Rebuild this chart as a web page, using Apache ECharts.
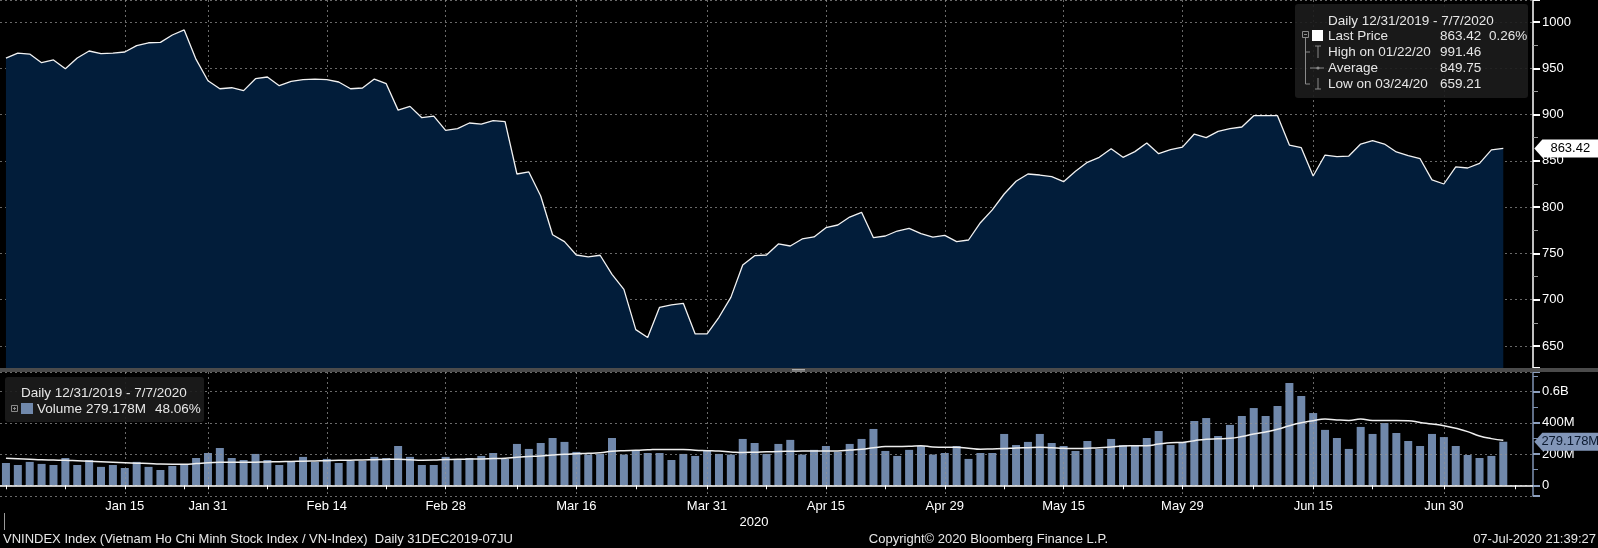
<!DOCTYPE html>
<html lang="en">

<head>
  <meta charset="UTF-8">
  <title>VNINDEX Index</title>
  <style>
    html, body { margin: 0; padding: 0; background: #000; }
    #chart { width: 1598px; height: 548px; }
  </style>
</head>

<body>
  <div id="chart"></div>
  <script src="https://cdn.jsdelivr.net/npm/echarts@6/dist/echarts.min.js"></script>
  <script>
    // trading days shown on the axis, by month
    const tradingDays = {
      '2019-12': [31],
      '2020-01': [2, 3, 6, 7, 8, 9, 10, 13, 14, 15, 16, 17, 20, 21, 22, 30, 31],
      '2020-02': [3, 4, 5, 6, 7, 10, 11, 12, 13, 14, 17, 18, 19, 20, 21, 24, 25, 26, 27, 28],
      '2020-03': [2, 3, 4, 5, 6, 9, 10, 11, 12, 13, 16, 17, 18, 19, 20, 23, 24, 25, 26, 27, 30, 31],
      '2020-04': [1, 3, 6, 7, 8, 9, 10, 13, 14, 15, 16, 17, 20, 21, 22, 23, 24, 27, 28, 29],
      '2020-05': [4, 5, 6, 7, 8, 11, 12, 13, 14, 15, 18, 19, 20, 21, 22, 25, 26, 27, 28, 29],
      '2020-06': [1, 2, 3, 4, 5, 8, 9, 10, 11, 12, 15, 16, 17, 18, 19, 22, 23, 24, 25, 26, 29, 30],
      '2020-07': [1, 2, 3, 6, 7]
    };
    // empty slots Bloomberg leaves after the last bar
    const paddingDays = ['2020-07-08', '2020-07-09'];

    const labelDates = ['2020-01-15', '2020-01-31', '2020-02-14', '2020-02-28', '2020-03-16', '2020-03-31',
      '2020-04-15', '2020-04-29', '2020-05-15', '2020-05-29', '2020-06-15', '2020-06-30'];
    const minorTickDates = ['2019-12-31', '2020-01-08', '2020-01-22', '2020-02-07', '2020-02-21', '2020-03-09',
      '2020-03-23', '2020-04-08', '2020-04-22', '2020-05-08', '2020-05-22', '2020-06-08', '2020-06-22', '2020-07-08'];

    // VN-Index close
    const prices = [
      961.0, 966.5, 965.4, 956.1, 959.0, 949.6, 961.1, 968.7, 965.8, 966.5,
      967.6, 974.5, 977.6, 978.0, 986.0, 991.46, 959.6, 936.6, 927.9, 929.0,
      925.9, 938.8, 940.6, 931.2, 935.9, 937.7, 938.4, 937.7, 935.2, 927.9,
      928.7, 938.4, 933.4, 904.8, 908.9, 896.6, 898.4, 882.9, 884.8, 890.9,
      889.8, 893.5, 892.4, 835.8, 838.0, 812.1, 770.2, 762.7, 748.3, 746.2,
      748.0, 727.4, 711.2, 667.7, 659.21, 691.8, 694.3, 696.1, 663.0, 663.0,
      681.0, 702.5, 737.5, 747.6, 748.3, 760.2, 758.0, 765.6, 767.8, 777.8,
      780.7, 789.3, 794.4, 767.0, 768.8, 774.2, 777.1, 771.3, 767.7, 769.5,
      762.7, 764.5, 783.2, 797.0, 814.2, 827.9, 835.8, 834.7, 832.9, 827.5,
      838.7, 848.4, 853.8, 863.1, 853.8, 860.0, 869.3, 857.8, 862.1, 864.9,
      879.0, 875.1, 881.9, 884.8, 886.6, 898.8, 898.8, 898.8, 867.1, 864.2,
      833.6, 856.3, 854.5, 855.2, 868.2, 871.8, 868.2, 859.6, 855.6, 852.3,
      829.4, 825.0, 843.4, 842.3, 847.3, 861.8, 863.42
    ];

    // volume, millions
    const volumes = [
      143, 130, 150, 137, 130, 175, 130, 162, 118, 130,
      111, 150, 118, 98, 124, 130, 175, 207, 239, 175,
      162, 201, 162, 130, 150, 182, 150, 169, 143, 156,
      156, 182, 175, 252, 182, 130, 130, 182, 169, 175,
      188, 207, 169, 265, 233, 271, 303, 278, 214, 197,
      201, 303, 197, 220, 207, 207, 162, 201, 188, 222,
      201, 197, 297, 271, 201, 265, 291, 197, 227, 252,
      214, 265, 297, 361, 220, 188, 227, 252, 197, 207,
      252, 169, 207, 207, 329, 258, 278, 329, 271, 252,
      220, 284, 233, 297, 258, 252, 303, 348, 258, 278,
      412, 431, 316, 387, 444, 495, 444, 508, 656, 572,
      463, 355, 303, 233, 374, 329, 399, 335, 284, 252,
      329, 309, 252, 194, 175, 188, 279.178
    ];

    // volume moving average (white curve), millions
    const volumeAvg = [
      173, 170, 167, 164, 162, 160, 157, 154, 151, 148,
      145, 142, 139, 136, 135, 135, 139, 145, 147, 147,
      147, 148, 150, 151, 153, 154, 156, 158, 160, 161,
      162, 164, 166, 167, 164, 161, 162, 165, 167, 168,
      169, 171, 173, 180, 184, 188, 194, 199, 202, 205,
      209, 218, 222, 224, 227, 230, 230, 229, 225, 222,
      219, 214, 210, 212, 215, 217, 218, 219, 220, 220,
      220, 226, 231, 240, 248, 249, 250, 254, 246, 244,
      244, 238, 231, 233, 235, 239, 241, 243, 240, 237,
      235, 238, 241, 246, 252, 253, 254, 264, 273, 275,
      286, 295, 298, 301, 312, 329, 342, 359, 382, 401,
      414, 425, 419, 416, 425, 416, 416, 416, 414, 403,
      393, 382, 365, 344, 316, 299, 288
    ];

    const monthNames = ['Jan', 'Feb', 'Mar', 'Apr', 'May', 'Jun', 'Jul', 'Aug', 'Sep', 'Oct', 'Nov', 'Dec'];

    const categories = [];
    for (const month of Object.keys(tradingDays)) {
      for (const d of tradingDays[month]) {
        categories.push(month + '-' + String(d).padStart(2, '0'));
      }
    }
    categories.push(...paddingDays);

    const lastDate = categories[prices.length - 1];
    const lastPrice = prices[prices.length - 1];
    const lastVolume = volumes[volumes.length - 1];

    function fmtDate(s) {
      const parts = s.split('-');
      return monthNames[+parts[1] - 1] + ' ' + (+parts[2]);
    }

    const FONT = 'Liberation Sans, Arial, sans-serif';
    const LEGEND_FONT = '13.5px ' + FONT;
    const gridColor = 'rgba(150,150,150,0.7)';
    const barColor = '#7088ab';
    const tagPath = 'path://M0,9L8,0L64,0L64,18L8,18Z';

    // legend text, z above the legend boxes
    function text(t, x, y) {
      return {
        type: 'text',
        silent: true,
        z: 11,
        style: {
          text: t, x: x, y: y, fill: '#e6e6e6',
          font: LEGEND_FONT, textVerticalAlign: 'middle'
        }
      };
    }
    function textAligned(t, x, y, align, fill) {
      return {
        type: 'text',
        silent: true,
        style: {
          text: t, x: x, y: y, fill: fill || '#e6e6e6',
          font: '13px ' + FONT, textAlign: align, textVerticalAlign: 'middle'
        }
      };
    }
    function line(x1, y1, x2, y2, color) {
      return { type: 'line', silent: true, z: 11, shape: { x1, y1, x2, y2 }, style: { stroke: color || '#8a8a8a', lineWidth: 1 } };
    }

    const echart = echarts.init(document.getElementById('chart'));

    const xBase = {
      type: 'category',
      data: categories,
      boundaryGap: true,
      splitLine: {
        show: true,
        alignWithLabel: true,
        interval: (i, v) => labelDates.includes(v),
        lineStyle: { color: gridColor, type: [2, 3], width: 1 }
      }
    };

    const options = {
      backgroundColor: '#000',
      animation: false,
      grid: [
        { left: -2, top: 0, width: 1535, height: 368 },
        { left: -2, top: 372, width: 1535, height: 124 }
      ],
      xAxis: [
        Object.assign({}, xBase, {
          gridIndex: 0,
          z: 3,
          axisLine: { show: false },
          axisTick: { show: false },
          axisLabel: { show: false }
        }),
        Object.assign({}, xBase, {
          gridIndex: 1,
          z: 3,
          axisLine: { show: true, lineStyle: { color: '#ffffff', width: 1.5 } },
          axisTick: {
            show: true,
            alignWithLabel: true,
            length: 4,
            interval: (i, v) => labelDates.includes(v) || minorTickDates.includes(v),
            lineStyle: { color: '#ffffff' }
          },
          axisLabel: {
            show: true,
            interval: (i, v) => labelDates.includes(v),
            formatter: fmtDate,
            color: '#ffffff',
            fontFamily: FONT,
            fontSize: 13,
            margin: 4
          }
        })
      ],
      yAxis: [
        {
          type: 'value',
          gridIndex: 0,
          position: 'right',
          min: 626.2,
          max: 1023.8,
          minInterval: 50,
          maxInterval: 50,
          z: 3,
          axisLine: { show: true, lineStyle: { color: '#ffffff', width: 1.5 } },
          axisTick: { show: true, length: 7, lineStyle: { color: '#ffffff', width: 2 } },
          minorTick: { show: true, splitNumber: 2, length: 5, lineStyle: { color: '#999999' } },
          axisLabel: {
            color: '#ffffff', fontFamily: FONT, fontSize: 13, margin: 9,
            showMinLabel: false, showMaxLabel: false,
            formatter: v => String(v)
          },
          splitLine: { show: true, lineStyle: { color: gridColor, type: [2, 3], width: 1 } }
        },
        {
          type: 'value',
          gridIndex: 1,
          position: 'right',
          min: -68.6,
          max: 726,
          minInterval: 200,
          maxInterval: 200,
          z: 3,
          axisLine: { show: true, lineStyle: { color: '#7f93b3', width: 1.5 } },
          axisTick: { show: true, length: 7, lineStyle: { color: '#8da0bf', width: 2 } },
          minorTick: { show: true, splitNumber: 2, length: 5, lineStyle: { color: '#7f93b3' } },
          axisLabel: {
            color: '#ffffff', fontFamily: FONT, fontSize: 13, margin: 9,
            showMinLabel: false, showMaxLabel: false,
            formatter: v => v === 0 ? '0' : (v >= 600 ? (v / 1000) + 'B' : v + 'M')
          },
          splitLine: { show: true, lineStyle: { color: gridColor, type: [2, 3], width: 1 } }
        }
      ],
      series: [
        {
          name: 'Last Price',
          type: 'line',
          xAxisIndex: 0,
          yAxisIndex: 0,
          data: prices,
          showSymbol: false,
          symbol: 'none',
          lineStyle: { color: '#f2f2f2', width: 1.3 },
          areaStyle: { color: '#021d3a', opacity: 1, origin: 'start' },
          markPoint: {
            silent: true,
            symbol: tagPath,
            symbolSize: [64, 18],
            symbolKeepAspect: false,
            symbolOffset: [63, 0],
            itemStyle: { color: '#ffffff' },
            label: {
              show: true, position: 'inside', offset: [4, 0],
              color: '#000000', fontFamily: FONT, fontSize: 13,
              formatter: () => lastPrice.toFixed(2)
            },
            data: [{ coord: [lastDate, lastPrice] }]
          }
        },
        {
          name: 'Volume',
          type: 'bar',
          xAxisIndex: 1,
          yAxisIndex: 1,
          data: volumes,
          barWidth: 8,
          itemStyle: { color: barColor },
          markPoint: {
            silent: true,
            symbol: tagPath,
            symbolSize: [64, 18],
            symbolKeepAspect: false,
            symbolOffset: [63, 0],
            itemStyle: { color: '#8296b8' },
            label: {
              show: true, position: 'inside', offset: [4, 0],
              color: '#0c1a30', fontFamily: FONT, fontSize: 13,
              formatter: () => lastVolume.toFixed(3) + 'M'
            },
            data: [{ coord: [lastDate, lastVolume] }]
          }
        },
        {
          name: 'Volume Avg',
          type: 'line',
          xAxisIndex: 1,
          yAxisIndex: 1,
          data: volumeAvg,
          smooth: true,
          showSymbol: false,
          symbol: 'none',
          z: 4,
          lineStyle: { color: '#eeeeee', width: 1.5 }
        }
      ],
      graphic: {
        elements: [
          // panel divider
          { type: 'rect', silent: true, shape: { x: 0, y: 368, width: 1598, height: 4 }, style: { fill: '#4b4b4b' }, z: 10 },
          line(792, 369.5, 805, 369.5, '#aaaaaa'),
          line(792, 371, 805, 371, '#aaaaaa'),

          // price legend
          { type: 'rect', silent: true, z: 10, shape: { x: 1295, y: 4, width: 233, height: 94, r: 3 }, style: { fill: 'rgba(28,28,28,0.9)' } },
          text('Daily 12/31/2019 - 7/7/2020', 1328, 21),
          { type: 'rect', silent: true, z: 11, shape: { x: 1302.5, y: 31.5, width: 6, height: 6 }, style: { fill: 'none', stroke: '#8a8a8a' } },
          line(1304, 34.5, 1307, 34.5),
          line(1305.5, 38, 1305.5, 84),
          line(1305.5, 52, 1310, 52),
          line(1305.5, 84, 1310, 84),
          line(1310, 68, 1324, 68),
          { type: 'circle', silent: true, z: 11, shape: { cx: 1318, cy: 68, r: 1.6 }, style: { fill: '#8a8a8a' } },
          line(1318, 46, 1318, 58),
          line(1315, 46, 1321, 46),
          line(1318, 78, 1318, 89),
          line(1315, 89, 1321, 89),
          { type: 'rect', silent: true, z: 11, shape: { x: 1312, y: 30, width: 11, height: 11 }, style: { fill: '#ffffff' } },
          text('Last Price', 1328, 36),
          text('863.42', 1440, 36),
          text('0.26%', 1489, 36),
          text('High on 01/22/20', 1328, 52),
          text('991.46', 1440, 52),
          text('Average', 1328, 68),
          text('849.75', 1440, 68),
          text('Low on 03/24/20', 1328, 84),
          text('659.21', 1440, 84),

          // volume legend
          { type: 'rect', silent: true, z: 10, shape: { x: 5, y: 377, width: 199, height: 45, r: 3 }, style: { fill: 'rgba(28,28,28,0.9)' } },
          text('Daily 12/31/2019 - 7/7/2020', 21, 393),
          { type: 'rect', silent: true, z: 11, shape: { x: 11.5, y: 405.5, width: 6, height: 6 }, style: { fill: 'none', stroke: '#8a8a8a' } },
          line(13, 408.5, 16, 408.5),
          line(14.5, 407, 14.5, 410),
          { type: 'rect', silent: true, z: 11, shape: { x: 21, y: 403, width: 12, height: 11 }, style: { fill: barColor } },
          text('Volume', 37, 409),
          text('279.178M', 86, 409),
          text('48.06%', 155, 409),

          // axis year and footer
          line(4.5, 513, 4.5, 530, '#9a9a9a'),
          textAligned('2020', 754, 522, 'center', '#ffffff'),
          textAligned('VNINDEX Index (Vietnam Ho Chi Minh Stock Index / VN-Index)  Daily 31DEC2019-07JU', 3, 539, 'left'),
          textAligned('Copyright\u00a9 2020 Bloomberg Finance L.P.', 1108, 539, 'right'),
          textAligned('07-Jul-2020 21:39:27', 1596, 539, 'right')
        ]
      }
    };

    echart.setOption(options);
  </script>
</body>

</html>
